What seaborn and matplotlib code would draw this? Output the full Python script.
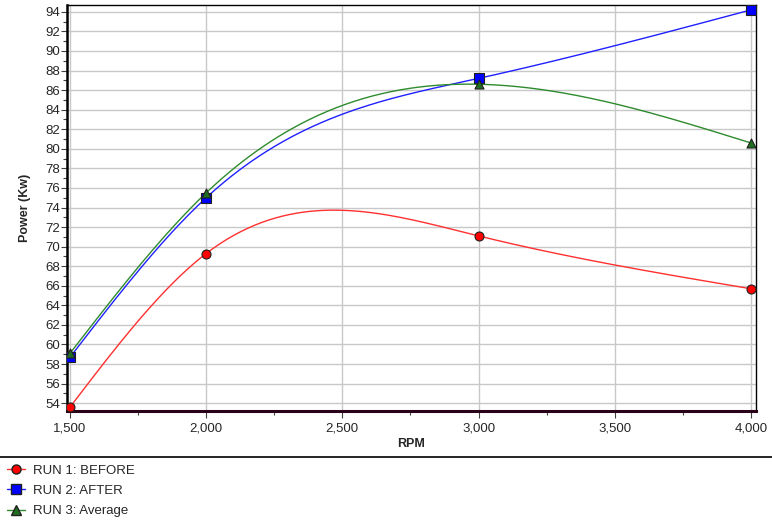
import numpy as np
import pandas as pd
import matplotlib
matplotlib.use("Agg")
import matplotlib.pyplot as plt
import matplotlib.ticker as mticker
from matplotlib.lines import Line2D
import seaborn as sns

rpm = [1500, 2000, 3000, 4000]
run1_before = [53.6, 69.3, 71.1, 65.7]
run2_after = [58.7, 75.0, 87.2, 94.2]
run3_average = [59.1, 75.5, 86.6, 80.6]

series_names = ["RUN 1: BEFORE", "RUN 2: AFTER", "RUN 3: Average"]
series_values = [run1_before, run2_after, run3_average]

LINE_COLORS = ["#ff3030", "#2020ff", "#2e8b2e"]
FACE_COLORS = ["#ff0000", "#0000ff", "#1f6e1f"]
MARKERS = ["o", "s", "^"]

sns.set_theme(style="white")
plt.rcParams["font.family"] = ["Liberation Sans", "DejaVu Sans"]


def natural_spline(x, y, n=300):
    """Natural cubic spline through the points, used only to draw the curve."""
    x = np.asarray(x, dtype=float) / 1000.0
    y = np.asarray(y, dtype=float)
    k = len(x)
    h = np.diff(x)
    A = np.zeros((k, k))
    b = np.zeros(k)
    A[0, 0] = A[-1, -1] = 1.0
    for i in range(1, k - 1):
        A[i, i - 1] = h[i - 1]
        A[i, i] = 2 * (h[i - 1] + h[i])
        A[i, i + 1] = h[i]
        b[i] = 6 * ((y[i + 1] - y[i]) / h[i] - (y[i] - y[i - 1]) / h[i - 1])
    M = np.linalg.solve(A, b)
    xs = np.linspace(x[0], x[-1], n)
    seg = np.clip(np.searchsorted(x, xs) - 1, 0, k - 2)
    x0, x1 = x[seg], x[seg + 1]
    hh = x1 - x0
    ys = (M[seg] * (x1 - xs) ** 3 / (6 * hh) + M[seg + 1] * (xs - x0) ** 3 / (6 * hh)
          + (y[seg] - M[seg] * hh ** 2 / 6) * (x1 - xs) / hh
          + (y[seg + 1] - M[seg + 1] * hh ** 2 / 6) * (xs - x0) / hh)
    return xs * 1000.0, ys


fig = plt.figure(figsize=(7.72, 5.22), dpi=100)
ax = fig.add_axes([0.0868, 0.2126, 0.8922, 0.7778])

for name, vals, lc, fc, mk in zip(series_names, series_values, LINE_COLORS, FACE_COLORS, MARKERS):
    xs, ys = natural_spline(rpm, vals)
    sns.lineplot(x=xs, y=ys, ax=ax, color=lc, linewidth=1.0, sort=False)
    sns.scatterplot(x=rpm, y=vals, ax=ax, marker=mk, s=42, color=fc,
                    edgecolor="#202020", linewidth=0.8, zorder=5)

ax.set_xlim(1489, 4018)
ax.set_ylim(53.2, 94.7)
ax.xaxis.set_major_locator(mticker.MultipleLocator(500))
ax.xaxis.set_minor_locator(mticker.MultipleLocator(250))
ax.yaxis.set_major_locator(mticker.MultipleLocator(2))
ax.yaxis.set_minor_locator(mticker.MultipleLocator(1))
ax.xaxis.set_major_formatter(mticker.FuncFormatter(lambda v, p: f"{int(v):,}"))

ax.grid(which="major", color="#c8c8c8", linewidth=1.0)
ax.set_axisbelow(True)
ax.tick_params(axis="y", which="major", direction="out", length=4, width=0.8, color="#404040",
               labelsize=9.5, left=True, pad=1)
ax.tick_params(axis="x", which="major", direction="out", length=5, width=0.8, color="#404040",
               labelsize=9.5, bottom=True, pad=3)
ax.tick_params(which="minor", direction="out", length=3, width=0.8, color="#404040",
               left=True, bottom=True)

for side in ["top", "right"]:
    ax.spines[side].set_color("black")
    ax.spines[side].set_linewidth(1.0)
ax.spines["left"].set_color("black")
ax.spines["left"].set_linewidth(1.8)
ax.spines["bottom"].set_color("#2a0018")
ax.spines["bottom"].set_linewidth(2.2)

ax.set_xlabel("RPM", fontsize=9, fontweight="bold", labelpad=3)
ax.set_ylabel("Power (Kw)", fontsize=9, fontweight="bold", labelpad=10)

# separator line above the legend
fig.add_artist(Line2D([0, 1], [1 - 457 / 522, 1 - 457 / 522], color="black", linewidth=1.2))

handles = [
    Line2D([], [], color=lc, marker=mk, markerfacecolor=fc, markeredgecolor="#202020",
           markersize=6.5, linewidth=1.0)
    for lc, fc, mk in zip(LINE_COLORS, FACE_COLORS, MARKERS)
]
fig.legend(handles, series_names, loc="upper left", bbox_to_anchor=(0.002, 1 - 459 / 522),
           frameon=False, fontsize=9.5, handlelength=1.4, handletextpad=0.6,
           labelspacing=0.62, borderaxespad=0.2, borderpad=0.2)

fig.savefig("out.png", dpi=100)
